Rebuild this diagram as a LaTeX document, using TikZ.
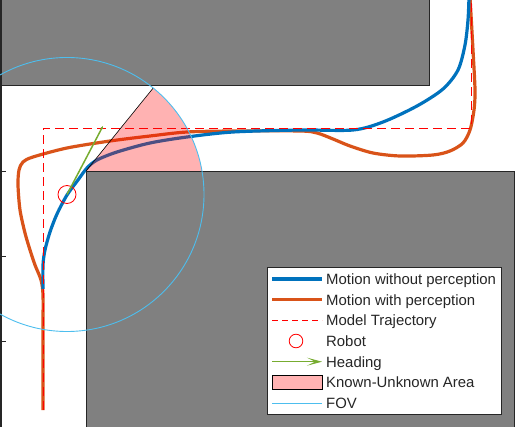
\documentclass[tikz,border=0pt]{standalone}
\usepackage{fontspec}
\setmainfont{Liberation Sans}
\usetikzlibrary{arrows.meta}
\definecolor{mblue}{RGB}{0,114,189}
\definecolor{morange}{RGB}{217,83,25}
\definecolor{mgreen}{RGB}{119,172,48}
\definecolor{mcyan}{RGB}{77,190,238}
\definecolor{mgray}{RGB}{128,128,128}
\definecolor{medge}{RGB}{38,38,38}
\begin{document}
\begin{tikzpicture}[x=1pt,y=-1pt,
    block/.style={fill=mgray,draw=medge,line width=0.9pt},
    withoutp/.style={mblue,line width=3.2pt},
    withp/.style={morange,line width=3.2pt},
    model/.style={red,line width=0.9pt,dash pattern=on 9pt off 5pt},
    robot/.style={red,line width=0.8pt},
    heading/.style={mgreen,line width=1.5pt},
    known/.style={fill=red,fill opacity=0.3},
    fov/.style={mcyan,line width=0.9pt},
    legtext/.style={anchor=base west,inner sep=0pt,font=\fontsize{14.9}{16}\selectfont,text=medge}]
    \useasboundingbox (0,0) rectangle (522,427);
    \clip (0,0) rectangle (522,427);
    % obstacles
    \draw[block] (-2,-2) rectangle (429,85);
    \draw[block] (86,171) rectangle (514,430);
    \draw[medge,line width=1.2pt] (1,0) -- (1,427);
    \draw[medge,line width=0.8pt] (0,171) -- (6,171) (0,256) -- (6,256) (0,341) -- (6,341);
    % trajectories
    \draw[withp] plot[smooth] coordinates {(43,410) (43,330) (43,295) (41,280) (35,265) (30,250)
      (25,233) (20,210) (18,185) (19,170) (23,162) (33,157) (67,148) (110,141) (150,136)
      (187,132) (233,131) (300,131) (317,133) (333,139) (350,146) (373,153) (400,156)
      (433,155) (450,151) (463,143) (470,130) (474,110) (475,90) (473,50) (470,-3)};
    \draw[withoutp] plot[smooth] coordinates {(43,289) (43,265) (45,250) (50,232) (57,214)
      (67,195) (78,180) (87,168) (97,160) (117,152) (150,143) (187,137) (233,132) (300,130)
      (353,130) (383,122) (417,106) (443,89) (458,70) (465,45) (468,20) (469,-3)};
    \draw[model] (43,410) -- (43,128) -- (471,128) -- (471,-3);
    % known-unknown area and field of view
    \coordinate (R) at (67,194.5);
    \coordinate (K) at (86,171);
    \coordinate (E) at (153.2,88);
    \fill[known] (K) -- (E) arc[start angle=-51,end angle=-9.9,radius=137] -- cycle;
    \draw[black,line width=0.6pt] (K) -- (E);
    \draw[robot] (R) circle[radius=9];
    \draw[heading,-{Stealth[length=3pt,width=2.5pt]}] (R) -- (103,126);
    \draw[fov] (R) circle[radius=137];
    % legend
    \draw[medge,fill=white,line width=0.6pt] (267,267) rectangle (501,414);
    \draw[withoutp] (272,279) -- (322,279);
    \node[legtext] (l1) at (326,284.5) {Motion without perception};
    \draw[withp] (272,299.7) -- (322,299.7);
    \node[legtext] (l2) at (326,305.2) {Motion with perception};
    \draw[model,dash pattern=on 6pt off 4pt] (272,320.3) -- (322,320.3);
    \node[legtext] (l3) at (326,325.8) {Model Trajectory};
    \draw[robot] (296,341) circle[radius=6.8];
    \node[legtext] (l4) at (326,346.5) {Robot};
    \draw[heading,-{Stealth[length=15pt,width=8pt,inset=8pt]}] (272,361.7) -- (322,361.7);
    \node[legtext] (l5) at (326,367.2) {Heading};
    \fill[known] (272,375) rectangle (322,389);
    \draw[black,line width=0.6pt] (272,375) rectangle (322,389);
    \node[legtext] (l6) at (326,387.8) {Known-Unknown Area};
    \draw[fov] (272,403) -- (322,403);
    \node[legtext] (l7) at (326,408.5) {FOV};
\end{tikzpicture}
\end{document}
